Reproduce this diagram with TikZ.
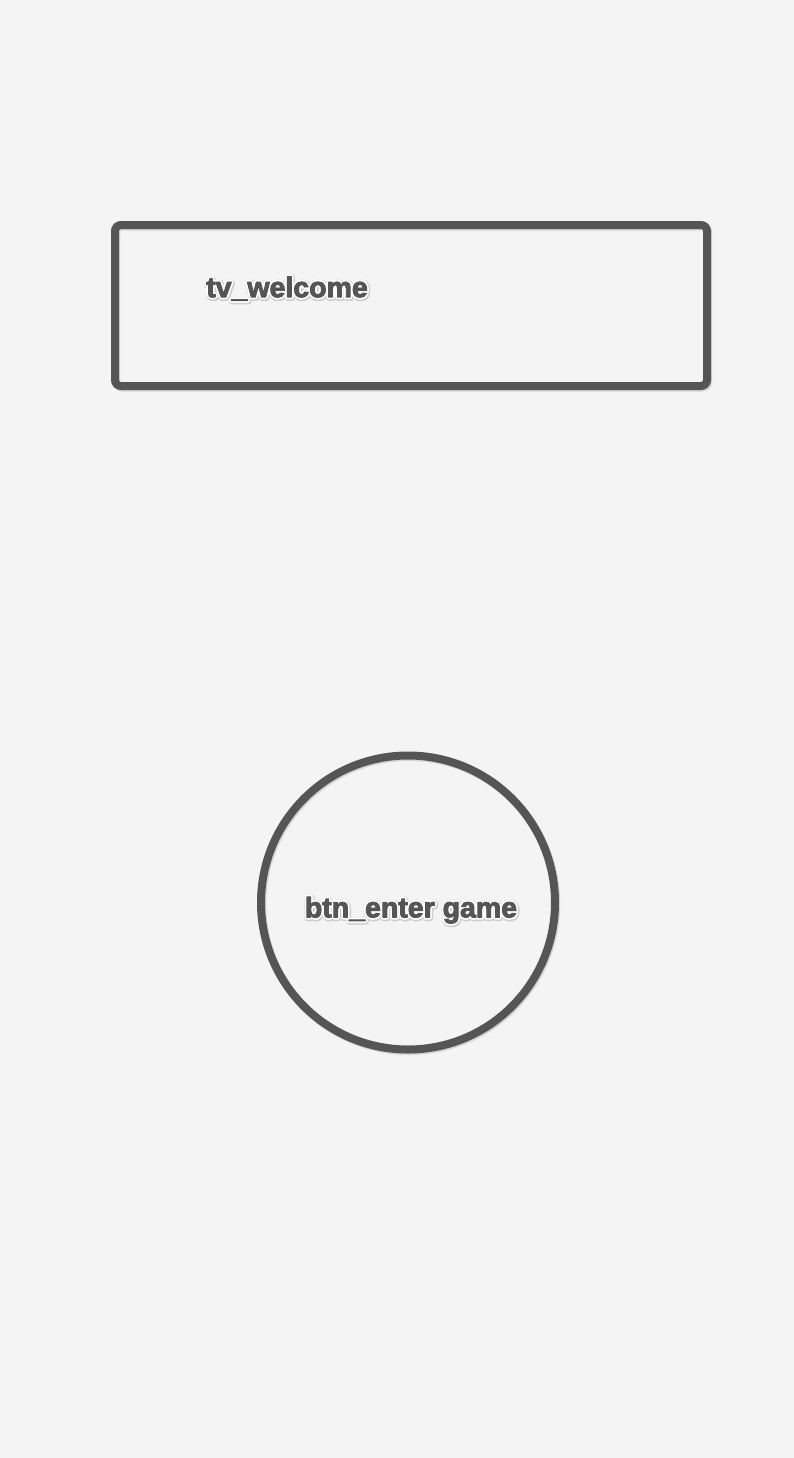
\documentclass[tikz,border=0pt]{standalone}
\usepackage{fontspec}
\setmainfont{Liberation Sans}
\usetikzlibrary{shadows}
\definecolor{bg}{HTML}{F4F4F4}
\definecolor{ink}{HTML}{555555}
\newcommand\halotext[1]{%
  \rlap{\textcolor{black!22}{\special{pdf:code q 1 Tr 6 w 1 j 0.80 0.80 0.80 RG}\kern0.6pt\raisebox{-0.8pt}{#1}\special{pdf:code Q}}}%
  \rlap{\textcolor{white}{\special{pdf:code q 1 Tr 4.5 w 1 j 1 1 1 RG}#1\special{pdf:code Q}}}%
  \textcolor{ink}{\special{pdf:code q 2 Tr 0.9 w 1 j 0.333 0.333 0.333 RG}#1\special{pdf:code Q}}}
\tikzset{
  shapebox/.style={draw=ink, line width=8pt, fill=none,
    drop shadow={shadow xshift=1.2pt, shadow yshift=-1.5pt, fill=none, draw=black!25, line width=8pt, opacity=0.6}},
  lbl/.style={inner sep=0pt, font=\bfseries\fontsize{28.5}{30}\selectfont}
}
\begin{document}
\begin{tikzpicture}[x=1pt,y=-1pt]
\fill[bg] (0,0) rectangle (794,1458);
\useasboundingbox (0,0) rectangle (794,1458);
\node[shapebox, rectangle, rounded corners=6pt, minimum width=592pt, minimum height=161pt] (welcomebox) at (411,305.5) {};
\node[shapebox, circle, minimum size=294pt, inner sep=0pt] (enterbtn) at (408,902.5) {};
\node[lbl] (welcometext) at (287,289) {\halotext{tv\_welcome}};
\node[lbl] (entertext) at (411,910.5) {\halotext{btn\_enter game}};
\end{tikzpicture}
\end{document}
